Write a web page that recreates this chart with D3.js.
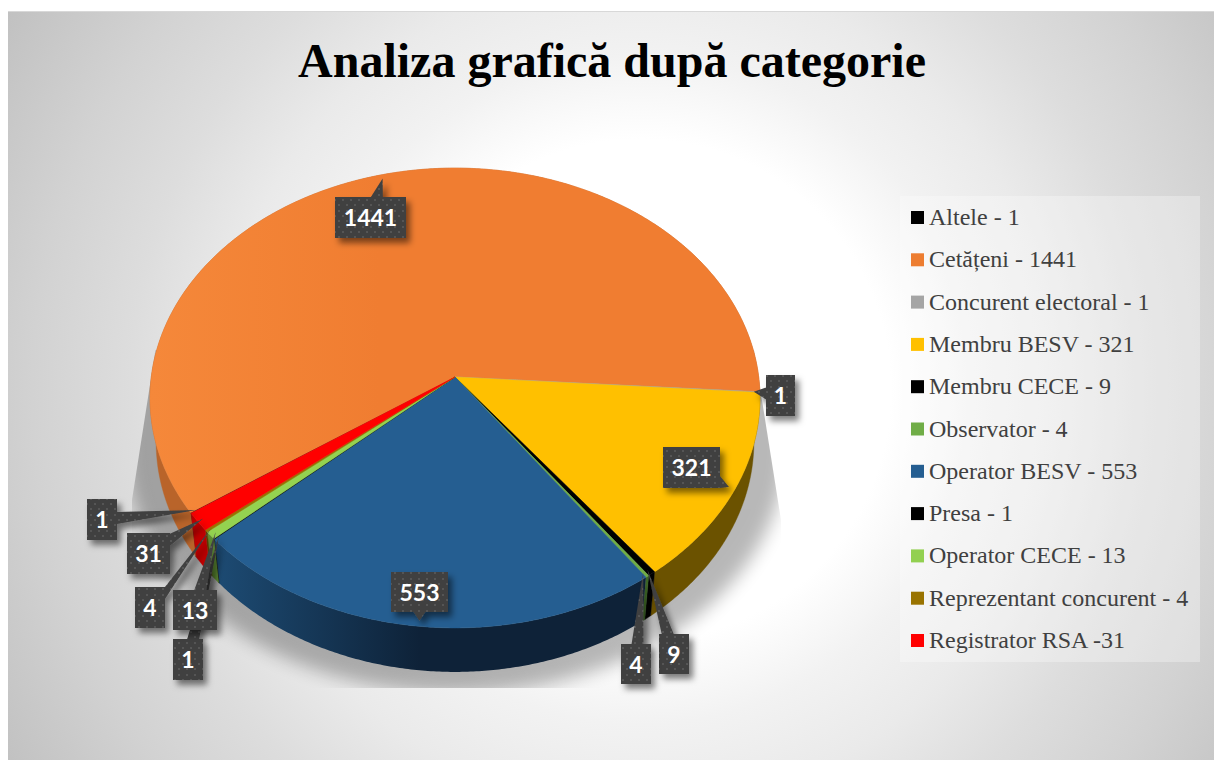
<!DOCTYPE html>
<html><head><meta charset="utf-8">
<style>html,body{margin:0;padding:0;background:#fff}svg{display:block}</style>
<script src="https://d3js.org/d3.v7.min.js"></script></head>
<body><svg id="c" width="1214" height="760"></svg>
<script>
const titleText = "Analiza grafică după categorie";
const categories = ["Altele","Cetățeni","Concurent electoral","Membru BESV","Membru CECE","Observator","Operator BESV","Presa","Operator CECE","Reprezentant concurent","Registrator RSA"];
const values = [1,1441,1,321,9,4,553,1,13,4,31];
const legendLabels = ["Altele - 1","Cetățeni - 1441","Concurent electoral - 1","Membru BESV - 321","Membru CECE - 9","Observator - 4","Operator BESV - 553","Presa - 1","Operator CECE - 13","Reprezentant concurent - 4","Registrator RSA -31"];
const topColors = ["#000000","url(#orangeTop)","#A5A5A5","#FFC000","#000000","#70AD47","#255E91","#000000","#94D250","#997300","#FF0000"];
const legendColors = ["#000000","#ED7D31","#A5A5A5","#FFC000","#000000","#70AD47","#255E91","#000000","#92D050","#997300","#FF0000"];
const sideColors = ["#000000","#B9642A","#666666","#6B5200","#000000","#3F6B26","url(#blueSide)","#000000","#5F8F33","#5A4400","#C00000"];
// callout boxes [x, y, w, h], parallel to categories
const calloutBoxes = [[87,499,30,41],[335,197,71,41],[766,375,29,41],[663,447,57,41],[659,634,30,40],[621,644,30,40],[391,572,57,40],[173,639,30,41],[173,590,44,40],[135,587,30,41],[127,533,43,41]];
const drawOrder = [1,3,6,2,4,5,0,10,9,7,8];

const svg = d3.select("#c");
const W = 1214, H = 760;
const apex = {x:455, y:377}, B = 303.7, A = 228, K = 0.0913, depth = 44, wallShrink = 0.98;
const rad = d => d*Math.PI/180;

const xScale = d3.scaleLinear().domain([-1,1]).range([apex.x-B, apex.x+B]);
const yScale = d3.scaleLinear().domain([-1,1]).range([apex.y-A, apex.y+A]);
// perspective projection of a point of the unit disc on the tilted pie
function project(theta, r=1){
  const u = r*Math.sin(theta), v = -r*Math.cos(theta), w = 1-K*v;
  return [xScale(u/w), yScale(v/w)];
}
const pie = d3.pie().sort(null).value(d=>d).startAngle(rad(-124.5)).endAngle(rad(235.5));
const arcs = pie(values);
const color = d3.scaleOrdinal().domain(categories).range(topColors);
const sideColor = d3.scaleOrdinal().domain(categories).range(sideColors);
const line = d3.line();
function arcPts(a){
  const n = Math.max(1,Math.ceil((a.endAngle-a.startAngle)/rad(0.5)));
  return d3.range(n+1).map(i=>project(a.startAngle+(a.endAngle-a.startAngle)*i/n,1));
}
const lower = p => [apex.x+(p[0]-apex.x)*wallShrink, p[1]+depth];

const defs = svg.append("defs");
const bg = defs.append("radialGradient").attr("id","bg").attr("gradientUnits","userSpaceOnUse").attr("cx",640).attr("cy",390).attr("r",760);
[[0,"#fff"],[.33,"#fff"],[.44,"#f2f2f2"],[.55,"#eaeaea"],[.67,"#dddddd"],[.80,"#d2d2d2"],[.92,"#c6c6c6"],[1,"#bebebe"]].forEach(s=>bg.append("stop").attr("offset",s[0]).attr("stop-color",s[1]));
const bs = defs.append("linearGradient").attr("id","blueSide").attr("gradientUnits","userSpaceOnUse").attr("x1",210).attr("x2",420).attr("y1",0).attr("y2",0);
bs.append("stop").attr("offset",0).attr("stop-color","#1D4C75");
bs.append("stop").attr("offset",1).attr("stop-color","#0E2238");
const ot = defs.append("linearGradient").attr("id","orangeTop").attr("gradientUnits","userSpaceOnUse").attr("x1",150).attr("x2",380).attr("y1",0).attr("y2",0);
ot.append("stop").attr("offset",0).attr("stop-color","#F5883A");
ot.append("stop").attr("offset",1).attr("stop-color","#F07D31");
defs.append("filter").attr("id","sh").attr("x","-20%").attr("y","-20%").attr("width","140%").attr("height","140%").append("feGaussianBlur").attr("stdDeviation",9);
const f2 = defs.append("filter").attr("id","bs").attr("x","-40%").attr("y","-40%").attr("width","200%").attr("height","200%");
f2.append("feDropShadow").attr("dx",4).attr("dy",5).attr("stdDeviation",3).attr("flood-color","#000").attr("flood-opacity",.5);
const pat = defs.append("pattern").attr("id","dots").attr("patternUnits","userSpaceOnUse").attr("width",16).attr("height",16);
pat.append("rect").attr("width",16).attr("height",16).attr("fill","#404040");
[[3,3],[11,3],[7,8],[15,8],[3,13],[11,13]].forEach(p=>pat.append("circle").attr("cx",p[0]).attr("cy",p[1]).attr("r",1.1).attr("fill","#5a5a5a"));
defs.append("clipPath").attr("id","shClip").append("path").attr("d","M155.4,350L132,500L132,688L781,688L781,520L754,350Z");

// background frame
svg.append("rect").attr("x",8).attr("y",11).attr("width",W-8).attr("height",H-11).attr("fill","url(#bg)");
svg.append("line").attr("x1",8).attr("x2",W).attr("y1",11.5).attr("y2",11.5).attr("stroke","#d8d8d8");

svg.append("text").attr("x",612).attr("y",77).attr("text-anchor","middle")
  .attr("font-family","'Liberation Serif',serif").attr("font-weight","bold").attr("font-size",48).attr("fill","#000").text(titleText);

// pie shadow
svg.append("g").attr("clip-path","url(#shClip)").append("ellipse")
  .attr("cx",456).attr("cy",448).attr("rx",330).attr("ry",245).attr("fill","#000").attr("opacity",.28).attr("filter","url(#sh)");

// side walls
svg.append("g").selectAll("path").data(arcs).join("path")
  .attr("d",a=>{const p=arcPts(a);return line(p.concat(p.map(lower).reverse()))+"Z";})
  .attr("fill",(a,i)=>sideColor(categories[i]))
  .attr("stroke",(a,i)=>i===6?"none":sideColor(categories[i])).attr("stroke-width",.4);

// top faces
svg.append("g").selectAll("path").data(arcs).join("path")
  .attr("d",a=>line([[apex.x,apex.y]].concat(arcPts(a)))+"Z")
  .attr("fill",(a,i)=>color(categories[i]))
  .attr("stroke",(a,i)=>color(categories[i])).attr("stroke-width",.5);

// legend
const legend = svg.append("g");
legend.append("rect").attr("x",900).attr("y",196).attr("width",300).attr("height",466).attr("fill","#fff").attr("opacity",.3);
const ly = d3.scalePoint().domain(categories).range([217.5,640.5]);
const row = legend.selectAll("g").data(categories).join("g").attr("transform",d=>`translate(0,${ly(d)})`);
row.append("rect").attr("x",911).attr("y",-6.5).attr("width",13).attr("height",13).attr("fill",(d,i)=>legendColors[i]);
row.append("text").attr("x",929).attr("y",7.5).attr("font-family","'Liberation Serif',serif").attr("font-size",24).attr("fill","#404040").text((d,i)=>legendLabels[i]);

// callouts
function calloutPath(b,tip){
  const [x,y,w,h]=b, cx=x+w/2, cy=y+h/2, dx=tip[0]-cx, dy=tip[1]-cy, hw=6;
  const clamp=(v,a,b)=>Math.max(a,Math.min(b,v));
  const horiz = Math.abs(dx)/(w/2) > Math.abs(dy)/(h/2);
  let p;
  if(horiz){
    const ex = dx>0?x+w:x, ey = clamp(cy+dy*(w/2)/Math.abs(dx),y+hw,y+h-hw);
    p=[[ex,ey-hw],tip,[ex,ey+hw]];
  } else {
    const ey = dy>0?y+h:y, ex = clamp(cx+dx*(h/2)/Math.abs(dy),x+hw,x+w-hw);
    p=[[ex-hw,ey],tip,[ex+hw,ey]];
  }
  const rect=`M${x},${y}H${x+w}V${y+h}H${x}Z`;
  return rect+line(p)+"Z";
}
const co = svg.append("g").selectAll("g").data(drawOrder).join("g");
co.append("path")
  .attr("d",i=>calloutPath(calloutBoxes[i],project((arcs[i].startAngle+arcs[i].endAngle)/2,0.98)))
  .attr("fill","url(#dots)").attr("fill-rule","nonzero").attr("filter","url(#bs)");
co.append("text").attr("x",i=>calloutBoxes[i][0]+calloutBoxes[i][2]/2).attr("y",i=>calloutBoxes[i][1]+calloutBoxes[i][3]/2+8.5)
  .attr("text-anchor","middle").attr("font-family","Lato,sans-serif").attr("font-weight","bold").attr("font-size",23).attr("fill","#fff")
  .text(i=>values[i]);
</script></body></html>
